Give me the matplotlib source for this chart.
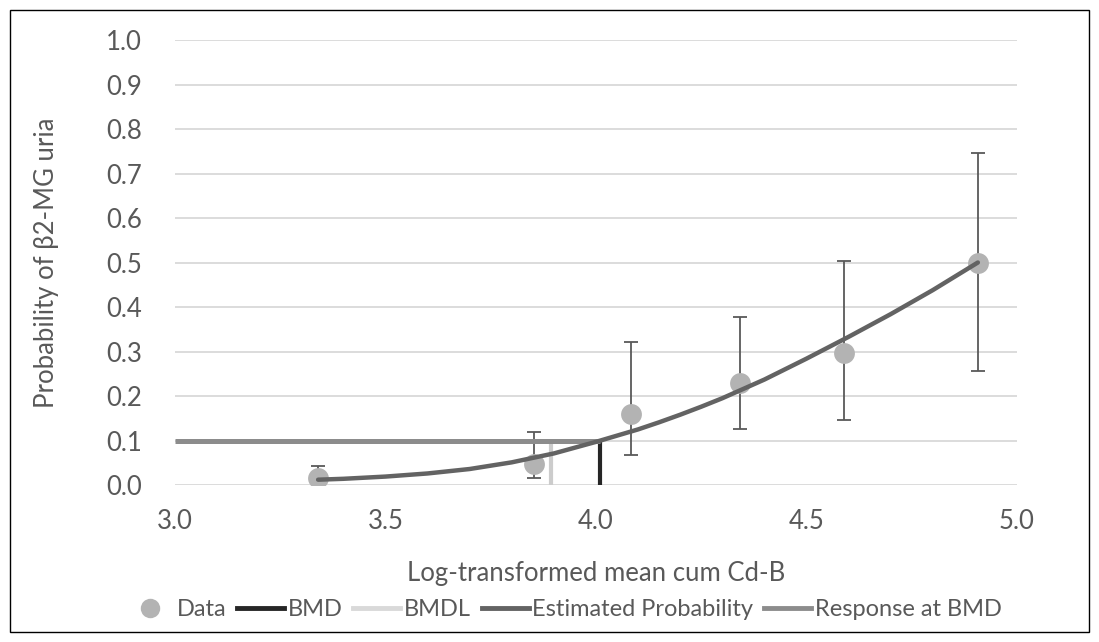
import matplotlib
matplotlib.use("Agg")
import matplotlib.pyplot as plt
from matplotlib.lines import Line2D
from matplotlib.patches import Rectangle

# Observed data
dose = [3.34, 3.853, 4.083, 4.342, 4.589, 4.907]
prob = [0.015, 0.047, 0.160, 0.229, 0.297, 0.500]
err_lo = [0.002, 0.016, 0.067, 0.126, 0.146, 0.256]
err_hi = [0.043, 0.119, 0.321, 0.378, 0.503, 0.746]

# Estimated probability curve
curve_x = [3.34, 3.4, 3.5, 3.6, 3.7, 3.8, 3.9, 4.0, 4.05, 4.1, 4.15, 4.2, 4.25,
           4.3, 4.4, 4.5, 4.6, 4.7, 4.8, 4.907]
curve_y = [0.012, 0.014, 0.019, 0.026, 0.036, 0.051, 0.071, 0.097, 0.111, 0.125,
           0.141, 0.158, 0.176, 0.195, 0.237, 0.284, 0.333, 0.384, 0.438, 0.500]

bmd = 4.01
bmdl = 3.893
bmr = 0.10
x_start = 3.0

xticks = [3.0, 3.5, 4.0, 4.5, 5.0]
yticks = [0.0, 0.1, 0.2, 0.3, 0.4, 0.5, 0.6, 0.7, 0.8, 0.9, 1.0]

plt.rcParams['font.family'] = ['Lato', 'DejaVu Sans']
txt = '#595959'
fs = 18.5

fig = plt.figure(figsize=(10.99, 6.42), dpi=100)
ax = fig.add_axes([0.1592, 0.2445, 0.7662, 0.6932])

ax.set_xlim(3.0, 5.0)
ax.set_ylim(0.0, 1.0)
ax.set_xticks(xticks)
ax.set_yticks(yticks)
ax.set_xticklabels([f"{v:.1f}" for v in xticks])
ax.set_yticklabels([f"{v:.1f}" for v in yticks])
ax.tick_params(length=0, labelsize=fs, labelcolor=txt)
ax.tick_params(axis='x', pad=17)
ax.tick_params(axis='y', pad=24)
for s in ax.spines.values():
    s.set_visible(False)
ax.grid(axis='y', color='#d9d9d9', lw=1.3, zorder=0)
ax.set_axisbelow(True)

yerr = [[p - l for p, l in zip(prob, err_lo)], [h - p for p, h in zip(prob, err_hi)]]
ax.errorbar(dose, prob, yerr=yerr, fmt='none', ecolor='#595959', elinewidth=1.3,
            capsize=5, capthick=1.3, zorder=2)
ax.plot(dose, prob, 'o', color='#b3b3b3', ms=15, mec='none', zorder=3)

ax.plot([bmd, bmd], [0, bmr], color='#262626', lw=3, zorder=4, solid_capstyle='butt')
ax.plot([bmdl, bmdl], [0, bmr], color='#cccccc', lw=3, zorder=4, solid_capstyle='butt')
ax.plot([x_start, bmd], [bmr, bmr], color='#8c8c8c', lw=3.6, zorder=5, solid_capstyle='butt')
ax.plot(curve_x, curve_y, color='#636363', lw=3.2, zorder=6, solid_capstyle='round',
        solid_joinstyle='round')

ax.set_xlabel('Log-transformed mean cum Cd-B', fontsize=fs, color=txt)
ax.set_ylabel('Probability of β2-MG uria', fontsize=fs, color=txt)
ax.yaxis.set_label_coords(-0.138, 0.5)
ax.xaxis.set_label_coords(0.5, -0.17)

handles = [
    Line2D([], [], marker='o', ls='none', color='#b3b3b3', ms=14, mec='none'),
    Line2D([], [], color='#262626', lw=3.5),
    Line2D([], [], color='#d9d9d9', lw=3.5),
    Line2D([], [], color='#636363', lw=3.5),
    Line2D([], [], color='#8c8c8c', lw=3.5),
]
labels = ['Data', 'BMD', 'BMDL', 'Estimated Probability', 'Response at BMD']
fig.legend(handles, labels, loc='center', bbox_to_anchor=(0.513, 0.05), ncol=5,
           frameon=False, fontsize=17, labelcolor=txt, handlelength=2.0,
           handletextpad=0.15, columnspacing=0.45)

fig.patches.append(Rectangle((0.009, 0.015), 0.982, 0.97, transform=fig.transFigure,
                             fill=False, ec='#000000', lw=1))

fig.savefig('out.png', dpi=100)
